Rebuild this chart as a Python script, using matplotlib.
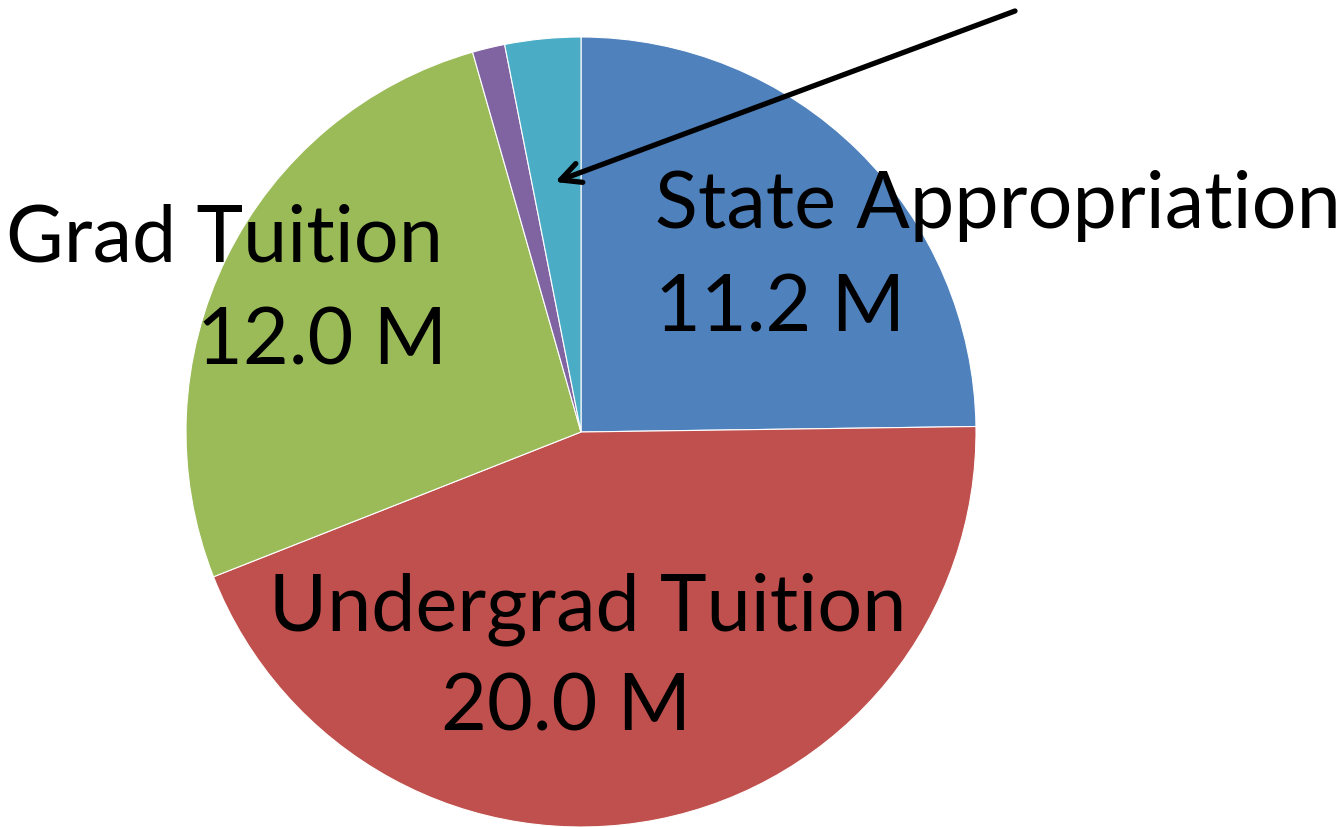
import matplotlib.pyplot as plt

# slice values in millions, clockwise from 12 o'clock
labels = ['State Appropriation', 'Undergrad Tuition', 'Grad Tuition', 'Other', 'Gifts']
values = [11.2, 20.0, 12.0, 0.6, 1.4]
colors = ['#4F81BD', '#C0504D', '#9BBB59', '#8064A2', '#4BACC6']

fig = plt.figure(figsize=(13.41, 8.28), dpi=100)
ax = fig.add_axes([0, 0, 1, 1])

ax.pie(values, colors=colors, startangle=90, counterclock=False,
       center=(581, -433), radius=395,
       wedgeprops=dict(edgecolor='white', linewidth=0.8))

# pie() resets the limits, so set pixel-like coordinates afterwards
ax.set_xlim(0, 1341)
ax.set_ylim(-828, 0)
ax.set_aspect('equal')
ax.axis('off')

font = dict(family=['Lato', 'DejaVu Sans'], fontsize=57, color='black')

# data labels
ax.text(655, -228, labels[0], ha='left', va='baseline', **font)
ax.text(655, -332, f'{values[0]:.1f} M', ha='left', va='baseline', **font)
ax.text(443, -262, labels[2], ha='right', va='baseline', **font)
ax.text(447, -365, f'{values[2]:.1f} M', ha='right', va='baseline', **font)
ax.text(588, -630, labels[1], ha='center', va='baseline', **font)
ax.text(566, -731, f'{values[1]:.1f} M', ha='center', va='baseline', **font)

# arrow pointing at the small slice
ax.annotate('', xy=(555, -183), xytext=(1015, -12),
            arrowprops=dict(arrowstyle='->', color='black', lw=3.8,
                            mutation_scale=36, shrinkA=0, shrinkB=0))

fig.savefig('out.png', dpi=100)
